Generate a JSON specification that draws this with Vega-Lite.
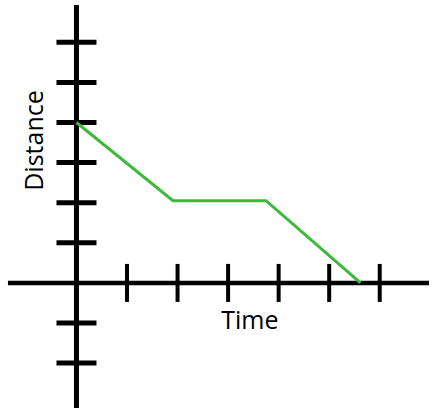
{
  "$schema": "https://vega.github.io/schema/vega-lite/v6.json",
  "width": 432,
  "height": 411,
  "autosize": {"type": "fit", "contains": "padding"},
  "padding": 0,
  "background": "white",
  "config": {"view": {"stroke": null}},
  "datasets": {
    "path": [
      {"t": 0, "k": 4},
      {"t": 1.91, "k": 2.05},
      {"t": 3.75, "k": 2.05},
      {"t": 5.62, "k": 0}
    ],
    "yticks": [{"k": 6}, {"k": 5}, {"k": 4}, {"k": 3}, {"k": 2}, {"k": 1}, {"k": -1}, {"k": -2}],
    "xticks": [{"t": 1}, {"t": 2}, {"t": 3}, {"t": 4}, {"t": 5}, {"t": 6}],
    "labels": [
      {"label": "Time", "t": 3.43, "k": -1.16, "angle": 0},
      {"label": "Distance", "t": -0.668, "k": 3.55, "angle": 270}
    ]
  },
  "layer": [
    {
      "data": {"values": [{"t": 0, "k": 6.93, "k2": -3.12}]},
      "mark": {"type": "rule", "stroke": "black", "strokeWidth": 5},
      "encoding": {
        "x": {"field": "t", "type": "quantitative", "scale": {"domain": [-1.513, 6.975], "nice": false, "zero": false}, "axis": null},
        "y": {"field": "k", "type": "quantitative", "scale": {"domain": [-3.119, 7.054], "nice": false, "zero": false}, "axis": null},
        "y2": {"field": "k2"}
      }
    },
    {
      "data": {"values": [{"t": -1.356, "t2": 6.975, "k": 0}]},
      "mark": {"type": "rule", "stroke": "black", "strokeWidth": 4.5},
      "encoding": {
        "x": {"field": "t", "type": "quantitative"},
        "x2": {"field": "t2"},
        "y": {"field": "k", "type": "quantitative"}
      }
    },
    {
      "data": {"name": "yticks"},
      "mark": {"type": "tick", "orient": "horizontal", "color": "black", "size": 40, "thickness": 5, "opacity": 1},
      "encoding": {
        "x": {"datum": 0, "type": "quantitative"},
        "y": {"field": "k", "type": "quantitative"}
      }
    },
    {
      "data": {"name": "xticks"},
      "mark": {"type": "tick", "orient": "vertical", "color": "black", "size": 38, "thickness": 4, "opacity": 1},
      "encoding": {
        "x": {"field": "t", "type": "quantitative"},
        "y": {"datum": 0, "type": "quantitative"}
      }
    },
    {
      "data": {"name": "path"},
      "mark": {"type": "line", "stroke": "#3cba3c", "strokeWidth": 3},
      "encoding": {
        "x": {"field": "t", "type": "quantitative"},
        "y": {"field": "k", "type": "quantitative"}
      }
    },
    {
      "data": {"name": "labels"},
      "mark": {"type": "text", "font": "Open Sans", "fontSize": 25, "align": "center", "baseline": "alphabetic", "color": "black"},
      "encoding": {
        "x": {"field": "t", "type": "quantitative"},
        "y": {"field": "k", "type": "quantitative"},
        "text": {"field": "label"},
        "angle": {"field": "angle", "type": "quantitative", "scale": null}
      }
    }
  ]
}
